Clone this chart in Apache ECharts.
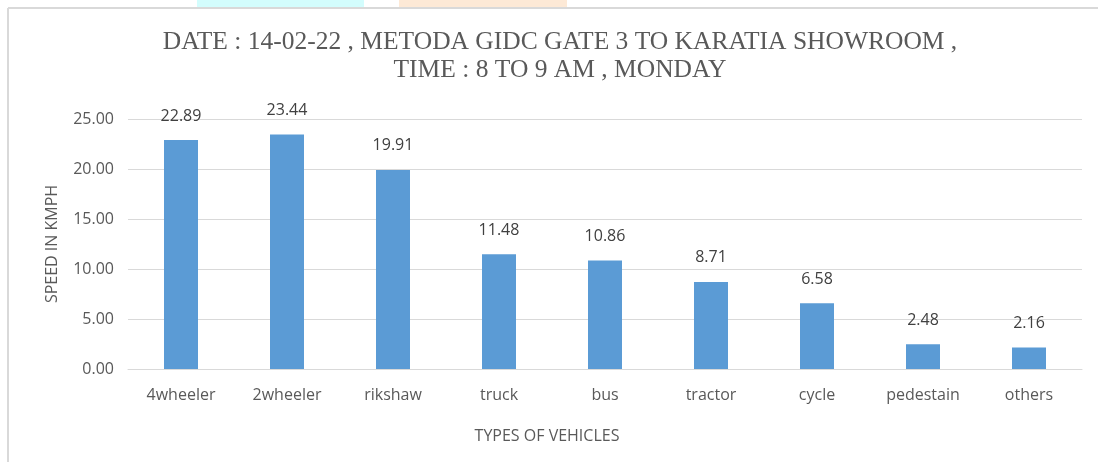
<!DOCTYPE html>
<html>
<head>
<meta charset="utf-8">
<script src="https://cdn.jsdelivr.net/npm/echarts@6/dist/echarts.min.js"></script>
<style>
  html, body { margin: 0; padding: 0; background: #fff; }
  #chart { width: 1098px; height: 462px; }
</style>
</head>
<body>
<div id="chart"></div>
<script>
// vehicle types and average speeds (km/h)
const categories = ["4wheeler", "2wheeler", "rikshaw", "truck", "bus", "tractor", "cycle", "pedestain", "others"];
const speeds = [22.89, 23.44, 19.91, 11.48, 10.86, 8.71, 6.58, 2.48, 2.16];
const titleLines = [
  "DATE : 14-02-22 , METODA GIDC GATE 3 TO KARATIA SHOWROOM ,",
  "TIME : 8 TO 9 AM , MONDAY"
];

const chart = echarts.init(document.getElementById("chart"));
const sans = "'Open Sans', sans-serif";

const options = {
  animation: false,
  title: {
    text: titleLines.join("\n"),
    left: 560,
    textAlign: "center",
    top: 28,
    padding: 0,
    textStyle: {
      fontFamily: "'Liberation Serif', serif",
      fontWeight: "normal",
      fontSize: 25.5,
      lineHeight: 28,
      color: "#595959",
    },
  },
  // page decorations: faint strips on top, frame lines
  graphic: [
    { type: "rect", shape: { x: 197, y: 0, width: 167, height: 8 }, style: { fill: "#d3fdfd" }, silent: true },
    { type: "rect", shape: { x: 399, y: 0, width: 168, height: 8 }, style: { fill: "#fde9d6" }, silent: true },
    { type: "line", shape: { x1: 8, y1: 8, x2: 1098, y2: 8 }, style: { stroke: "#d9d9d9", lineWidth: 2 }, silent: true },
    { type: "line", shape: { x1: 8, y1: 8, x2: 8, y2: 462 }, style: { stroke: "#d9d9d9", lineWidth: 2 }, silent: true },
  ],
  grid: {
    left: 128,
    right: 16,
    top: 119,
    bottom: 93,
  },
  xAxis: {
    type: "category",
    data: categories,
    name: "TYPES OF VEHICLES",
    nameLocation: "middle",
    nameGap: 59,
    nameTextStyle: { fontFamily: sans, fontSize: 16, color: "#595959", padding: [0, 116, 0, 0] },
    axisLine: { lineStyle: { color: "#d9d9d9", width: 1 } },
    axisTick: { show: false },
    axisLabel: { fontFamily: sans, fontSize: 16, color: "#595959", margin: 18 },
  },
  yAxis: {
    type: "value",
    min: 0,
    max: 25,
    interval: 5,
    name: "SPEED IN KMPH",
    nameLocation: "middle",
    nameGap: 68,
    nameTextStyle: { fontFamily: sans, fontSize: 16, color: "#595959" },
    axisLine: { show: false },
    axisTick: { show: false },
    axisLabel: {
      fontFamily: sans,
      fontSize: 16,
      color: "#595959",
      margin: 14,
      formatter: (v) => v.toFixed(2),
    },
    splitLine: { lineStyle: { color: "#d9d9d9", width: 1 } },
  },
  series: [
    {
      type: "bar",
      data: speeds,
      barWidth: 34,
      itemStyle: { color: "#5b9bd5" },
      label: {
        show: true,
        position: "top",
        distance: 16,
        fontFamily: sans,
        fontSize: 16,
        color: "#404040",
        formatter: (p) => p.value.toFixed(2),
      },
    },
  ],
};

chart.setOption(options);
</script>
</body>
</html>
